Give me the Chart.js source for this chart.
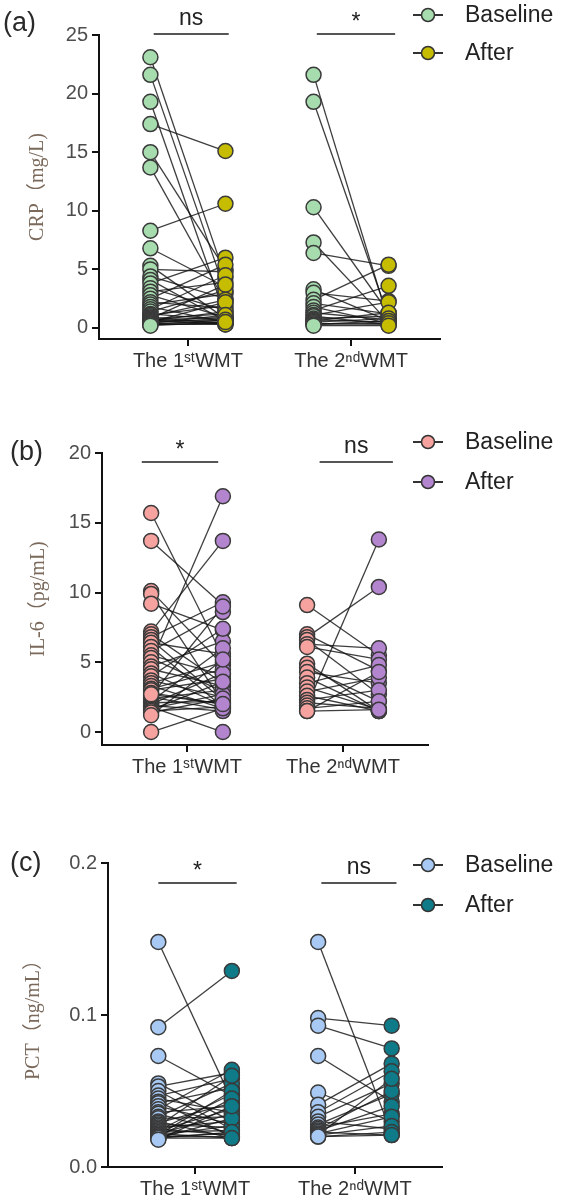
<!DOCTYPE html>
<html>
<head>
<meta charset="utf-8">
<script src="https://cdn.jsdelivr.net/npm/chart.js@4.4.1/dist/chart.umd.min.js"></script>
<style>
  body { margin: 0; background: #fff; }
  .panel { position: absolute; left: 0; width: 567px; }
</style>
</head>
<body>
<div class="panel" style="top:0"><canvas id="chartA" width="567" height="390"></canvas></div>
<div class="panel" style="top:400px"><canvas id="chartB" width="567" height="400"></canvas></div>
<div class="panel" style="top:810px"><canvas id="chartC" width="567" height="394"></canvas></div>
<script>
// groups on the x axis
var groupLabels = ['The 1ˢᵗWMT', 'The 2ⁿᵈWMT'];
var seriesNames = ['Baseline', 'After'];

// CRP (mg/L), paired values per patient
var crpBase1 = [23.1, 21.6, 19.3, 17.4, 15.0, 13.7, 8.3, 6.8, 5.3, 5.0, 4.4, 4.1, 3.8, 3.4, 3.1, 2.8, 2.5, 2.2, 2.0, 1.8, 1.6, 1.4, 1.2, 1.1, 1.0, 0.9, 0.8, 0.8, 0.7, 0.7, 0.6, 0.6, 0.5, 0.5, 0.4, 0.4, 0.3, 0.3, 0.3, 0.2];
var crpAfter1 = [4.3, 3.1, 1.0, 15.1, 5.0, 2.2, 10.6, 3.5, 0.8, 4.8, 2.5, 0.6, 6.0, 1.5, 3.9, 0.9, 5.4, 1.7, 2.9, 0.5, 4.5, 3.2, 0.7, 1.9, 2.4, 0.4, 1.2, 3.7, 0.9, 0.3, 1.4, 0.6, 2.2, 0.8, 0.5, 1.1, 0.4, 0.3, 0.7, 0.5];
var crpBase2 = [21.6, 19.3, 10.3, 7.3, 6.4, 3.3, 3.0, 2.4, 2.1, 1.8, 1.5, 1.3, 1.1, 1.0, 0.8, 0.7, 0.6, 0.5, 0.4, 0.3, 0.3, 0.2];
var crpAfter2 = [0.6, 0.9, 1.3, 0.5, 5.3, 0.6, 2.3, 5.4, 1.2, 0.4, 3.6, 0.7, 2.2, 0.3, 1.0, 0.5, 1.3, 0.8, 0.3, 0.6, 0.4, 0.2];

// IL-6 (pg/mL)
var ilBase1 = [15.7, 13.7, 10.1, 9.9, 9.2, 7.2, 7.0, 6.8, 6.6, 6.4, 6.1, 5.8, 5.5, 5.3, 5.0, 4.7, 4.5, 4.2, 4.0, 3.7, 3.5, 3.3, 3.1, 3.0, 2.8, 2.6, 2.5, 2.4, 2.2, 2.1, 2.0, 1.9, 1.8, 1.7, 1.6, 1.5, 1.4, 1.2, 0.0, 2.7];
var ilAfter1 = [5.4, 9.1, 4.8, 2.1, 7.3, 13.7, 3.5, 9.3, 2.3, 5.6, 1.8, 8.6, 4.1, 2.9, 16.9, 6.5, 3.3, 1.9, 7.4, 2.5, 5.0, 1.7, 4.5, 3.8, 2.0, 9.0, 1.6, 3.0, 6.0, 2.2, 4.2, 1.5, 0.0, 2.7, 3.6, 1.8, 2.4, 5.2, 1.7, 2.0];
var ilBase2 = [9.1, 7.0, 6.8, 6.6, 6.3, 6.1, 4.9, 4.6, 4.3, 3.9, 3.5, 3.2, 2.9, 2.6, 2.3, 2.1, 1.9, 1.7, 1.5, 1.5];
var ilAfter2 = [5.5, 4.4, 10.4, 2.7, 6.0, 5.2, 1.5, 2.2, 3.5, 1.5, 4.8, 1.6, 3.9, 1.5, 3.0, 1.7, 13.8, 2.2, 1.6, 4.3];

// PCT (ng/mL)
var pctBase1 = [0.148, 0.092, 0.073, 0.055, 0.053, 0.050, 0.047, 0.045, 0.043, 0.042, 0.040, 0.038, 0.036, 0.035, 0.033, 0.032, 0.030, 0.029, 0.028, 0.027, 0.026, 0.025, 0.024, 0.024, 0.023, 0.022, 0.022, 0.021, 0.021, 0.020, 0.020, 0.020, 0.019, 0.019, 0.019, 0.018];
var pctAfter1 = [0.044, 0.129, 0.047, 0.030, 0.062, 0.025, 0.058, 0.036, 0.020, 0.052, 0.028, 0.064, 0.040, 0.022, 0.055, 0.033, 0.019, 0.042, 0.026, 0.060, 0.030, 0.021, 0.038, 0.048, 0.024, 0.035, 0.019, 0.050, 0.027, 0.022, 0.045, 0.020, 0.032, 0.023, 0.019, 0.040];
var pctBase2 = [0.148, 0.098, 0.093, 0.073, 0.049, 0.041, 0.036, 0.033, 0.030, 0.028, 0.026, 0.025, 0.024, 0.023, 0.022, 0.021, 0.021, 0.020, 0.020];
var pctAfter2 = [0.022, 0.093, 0.078, 0.043, 0.030, 0.068, 0.063, 0.055, 0.025, 0.048, 0.035, 0.050, 0.040, 0.021, 0.033, 0.058, 0.027, 0.023, 0.021];

// axis ticks
var crpTicks = [0, 5, 10, 15, 20, 25];
var ilTicks = [0, 5, 10, 15, 20];
var pctTicks = [0, 0.1, 0.2];
var pctTickLabels = ['0.0', '0.1', '0.2'];

// significance marks per group
var crpSig = ['ns', '*'];
var ilSig = ['*', 'ns'];
var pctSig = ['*', 'ns'];

var SANS = "'Liberation Sans', Arial, sans-serif";
var SERIF = "'Liberation Serif', 'Noto Sans CJK SC', serif";
var PAIR = 0.23;

function makePanel(id, p) {
    var datasets = [];
    var basePts = [], afterPts = [];
    p.base.forEach(function (arr, g) {
        arr.forEach(function (b, i) {
            var a = p.after[g][i];
            datasets.push({
                data: [{x: g - PAIR, y: b}, {x: g + PAIR, y: a}],
                showLine: true,
                borderColor: 'rgba(20,20,20,0.82)',
                borderWidth: 1.3,
                pointRadius: 0,
                order: 3
            });
            basePts.push({x: g - PAIR, y: b});
            afterPts.push({x: g + PAIR, y: a});
        });
    });
    datasets.push({label: seriesNames[0], data: basePts, pointRadius: 7.5, pointBackgroundColor: p.colors[0],
        pointBorderColor: '#3a3a3a', pointBorderWidth: 1.5, order: 1});
    datasets.push({label: seriesNames[1], data: afterPts, pointRadius: 7.5, pointBackgroundColor: p.colors[1],
        pointBorderColor: '#3a3a3a', pointBorderWidth: 1.5, order: 0});

    var extras = {
        id: 'extras',
        afterDraw: function (chart) {
            var c = chart.ctx, xs = chart.scales.x;
            c.save();
            // panel letter
            c.fillStyle = '#2a2a2a';
            c.font = '27px ' + SANS;
            c.textAlign = 'left';
            c.textBaseline = 'middle';
            c.fillText(p.letter, p.letterX, p.letterY);
            // significance bars
            p.sig.forEach(function (s, g) {
                var x1 = xs.getPixelForValue(g + p.sigSpan[g][0]);
                var x2 = xs.getPixelForValue(g + p.sigSpan[g][1]);
                c.strokeStyle = '#555';
                c.lineWidth = 2;
                c.beginPath();
                c.moveTo(x1, p.sigY);
                c.lineTo(x2, p.sigY);
                c.stroke();
                c.fillStyle = '#222';
                c.font = '23px ' + SANS;
                c.textAlign = 'center';
                c.textBaseline = 'alphabetic';
                c.fillText(s, (x1 + x2) / 2, p.sigY - 9 + (s === '*' ? 4 : 0));
            });
            // legend
            seriesNames.forEach(function (name, i) {
                var y = p.legendY[i];
                c.strokeStyle = '#333';
                c.lineWidth = 2;
                c.beginPath();
                c.moveTo(413, y);
                c.lineTo(443, y);
                c.stroke();
                c.beginPath();
                c.arc(428, y, 6.5, 0, Math.PI * 2);
                c.fillStyle = p.colors[i];
                c.fill();
                c.lineWidth = 1.5;
                c.stroke();
                c.fillStyle = '#222';
                c.font = '23px ' + SANS;
                c.textAlign = 'left';
                c.textBaseline = 'middle';
                c.fillText(name, 465, y + 1);
            });
            c.restore();
        }
    };

    return new Chart(document.getElementById(id).getContext('2d'), {
        type: 'scatter',
        data: {datasets: datasets},
        plugins: [extras],
        options: {
            responsive: false,
            animation: false,
            layout: {padding: {top: p.top, right: 567 - p.right, left: 0, bottom: p.padB}},
            plugins: {legend: {display: false}, tooltip: {enabled: false}},
            scales: {
                x: {
                    type: 'linear', min: -0.545, max: 1.545,
                    afterBuildTicks: function (s) { s.ticks = [{value: 0}, {value: 1}]; },
                    afterFit: function (s) { s.height = p.xAxisH; },
                    ticks: {
                        callback: function (v) { return groupLabels[v]; },
                        font: {family: SANS, size: 20}, color: '#333', padding: 3,
                        maxRotation: 0, autoSkip: false
                    },
                    grid: {drawOnChartArea: false, drawTicks: true, tickLength: 7, color: '#111', lineWidth: 2},
                    border: {color: '#111', width: 2}
                },
                y: {
                    min: p.yMin, max: p.yMax,
                    afterBuildTicks: function (s) { s.ticks = p.yTicks.map(function (v) { return {value: v}; }); },
                    afterFit: function (s) { s.width = p.yAxisW; },
                    ticks: {
                        callback: function (v, i) { return p.yLabels ? p.yLabels[i] : v; },
                        font: {family: SANS, size: 20}, color: '#4d4d4d', padding: 4
                    },
                    grid: {drawOnChartArea: false, drawTicks: true, tickLength: 7, color: '#111', lineWidth: 2},
                    border: {color: '#111', width: 2},
                    title: {
                        display: true, text: p.yTitle, color: '#7b6a5c',
                        font: {family: SERIF, size: 20}, padding: {top: p.titlePad, bottom: 0}
                    }
                }
            }
        }
    });
}

makePanel('chartA', {
    base: [crpBase1, crpBase2], after: [crpAfter1, crpAfter2],
    colors: ['#a6dcae', '#c6bd00'],
    yMin: -0.94, yMax: 25, yTicks: crpTicks, yTitle: 'CRP（mg/L)',
    top: 35, right: 440, padB: 11, xAxisH: 40, yAxisW: 99, titlePad: 26,
    letter: '(a)', letterX: 3, letterY: 24,
    sig: crpSig, sigSpan: [[-0.21, 0.25], [-0.21, 0.27]], sigY: 34,
    legendY: [15, 53]
});

makePanel('chartB', {
    base: [ilBase1, ilBase2], after: [ilAfter1, ilAfter2],
    colors: ['#f6a3a0', '#b385cf'],
    yMin: -0.93, yMax: 20, yTicks: ilTicks, yTitle: 'IL-6（pg/mL)',
    top: 53, right: 428, padB: 15, xAxisH: 40, yAxisW: 102, titlePad: 27,
    letter: '(b)', letterX: 10, letterY: 53,
    sig: ilSig, sigSpan: [[-0.29, 0.2], [-0.15, 0.32]], sigY: 62,
    legendY: [42, 82]
});

makePanel('chartC', {
    base: [pctBase1, pctBase2], after: [pctAfter1, pctAfter2],
    colors: ['#a7c9f3', '#0f7a88'],
    yMin: 0, yMax: 0.2, yTicks: pctTicks, yLabels: pctTickLabels, yTitle: 'PCT（ng/mL）',
    top: 53, right: 442, padB: 1, xAxisH: 36, yAxisW: 108, titlePad: 22,
    letter: '(c)', letterX: 10, letterY: 54,
    sig: pctSig, sigSpan: [[-0.23, 0.26], [-0.21, 0.26]], sigY: 73,
    legendY: [55, 95]
});
</script>
</body>
</html>
